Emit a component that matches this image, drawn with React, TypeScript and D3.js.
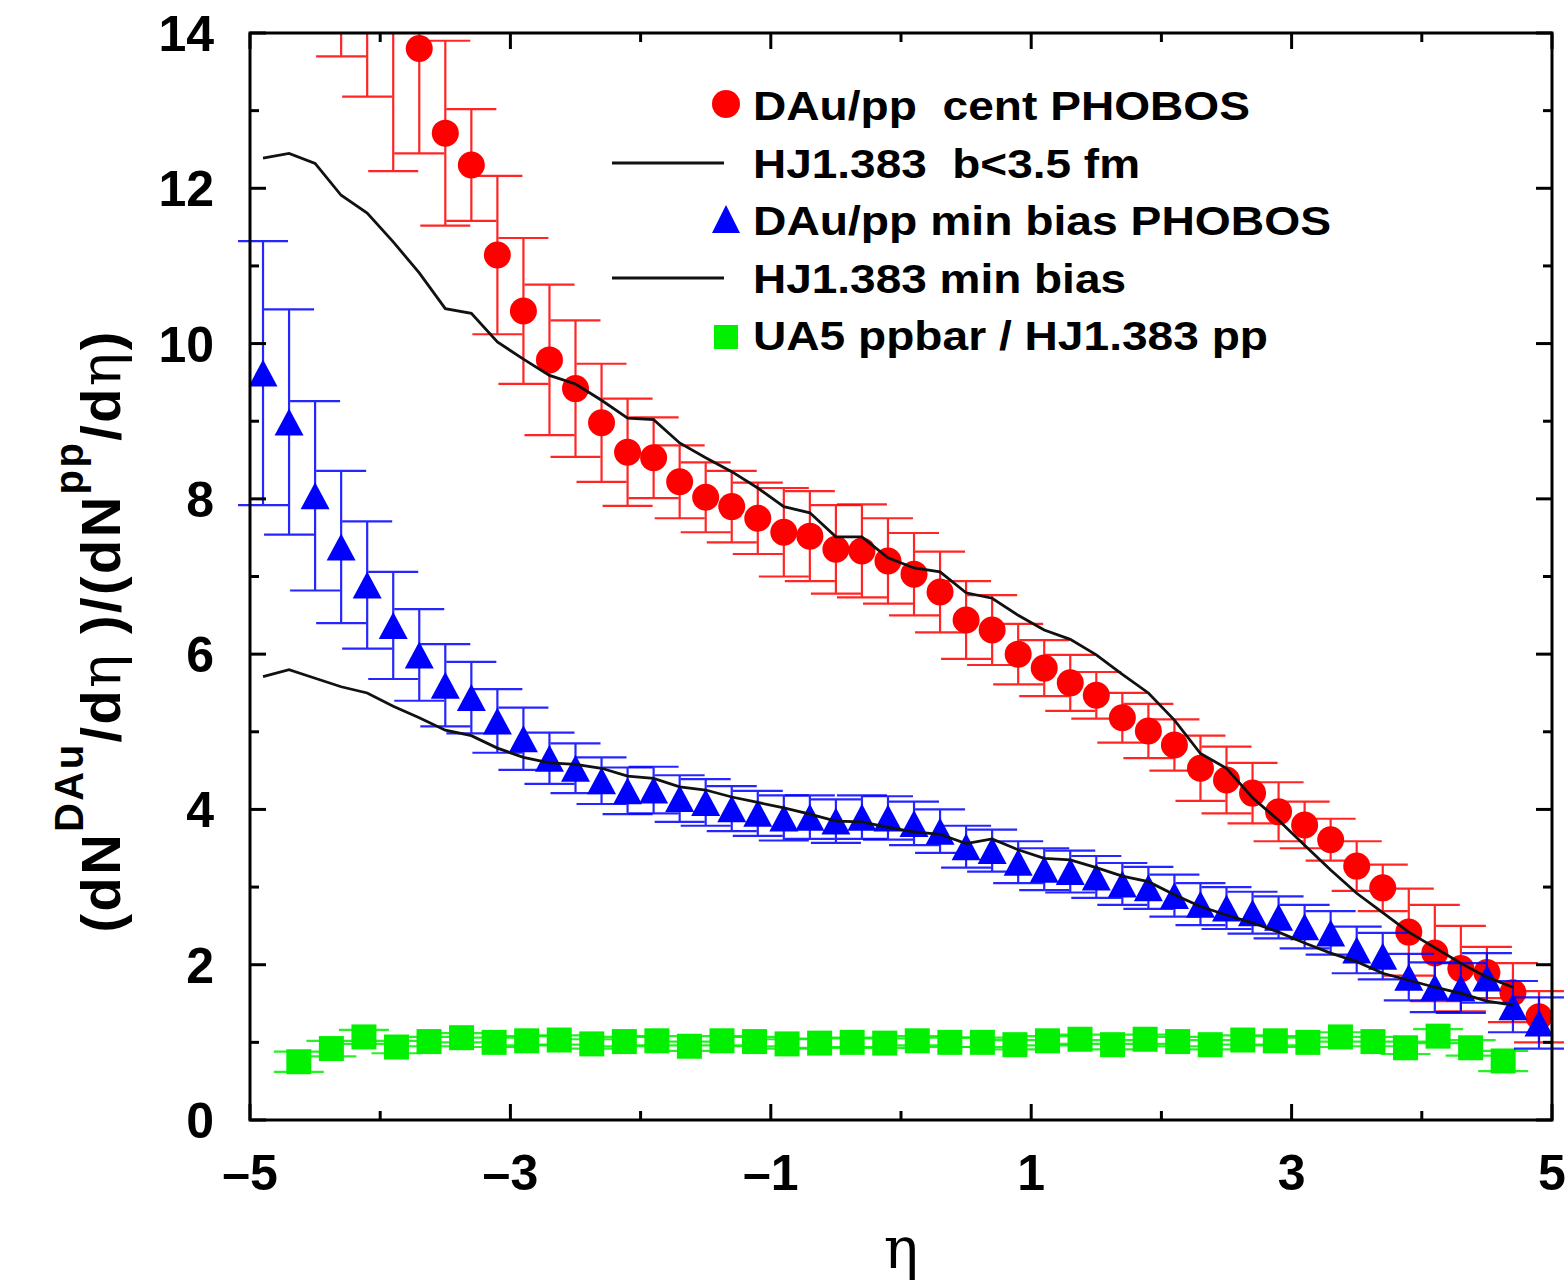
import React from "react";
import * as d3 from "d3";

// ---------- data ----------
const redEta = [-4.3, -4.1, -3.9, -3.7, -3.5, -3.3, -3.1, -2.9, -2.7, -2.5, -2.3, -2.1, -1.9, -1.7, -1.5, -1.3, -1.1, -0.9, -0.7, -0.5, -0.3, -0.1, 0.1, 0.3, 0.5, 0.7, 0.9, 1.1, 1.3, 1.5, 1.7, 1.9, 2.1, 2.3, 2.5, 2.7, 2.9, 3.1, 3.3, 3.5, 3.7, 3.9, 4.1, 4.3, 4.5, 4.7, 4.9];
const redVal = [16.3, 15.5, 14.55, 13.8, 12.71, 12.3, 11.14, 10.42, 9.79, 9.42, 8.98, 8.6, 8.53, 8.22, 8.02, 7.9, 7.75, 7.57, 7.52, 7.35, 7.33, 7.2, 7.03, 6.8, 6.44, 6.31, 6.0, 5.82, 5.63, 5.47, 5.18, 5.01, 4.83, 4.53, 4.38, 4.21, 3.97, 3.8, 3.61, 3.27, 2.99, 2.42, 2.15, 1.95, 1.9, 1.64, 1.33];
const redErr = [2.6, 2.32, 2.33, 1.35, 1.19, 0.72, 1.02, 0.94, 0.97, 0.88, 0.76, 0.69, 0.52, 0.47, 0.45, 0.46, 0.46, 0.57, 0.58, 0.57, 0.6, 0.55, 0.53, 0.52, 0.5, 0.45, 0.39, 0.36, 0.36, 0.3, 0.32, 0.35, 0.33, 0.42, 0.43, 0.39, 0.38, 0.3, 0.27, 0.32, 0.3, 0.56, 0.62, 0.55, 0.33, 0.38, 0.33];

const blueEta = [-4.9, -4.7, -4.5, -4.3, -4.1, -3.9, -3.7, -3.5, -3.3, -3.1, -2.9, -2.7, -2.5, -2.3, -2.1, -1.9, -1.7, -1.5, -1.3, -1.1, -0.9, -0.7, -0.5, -0.3, -0.1, 0.1, 0.3, 0.5, 0.7, 0.9, 1.1, 1.3, 1.5, 1.7, 1.9, 2.1, 2.3, 2.5, 2.7, 2.9, 3.1, 3.3, 3.5, 3.7, 3.9, 4.1, 4.3, 4.5, 4.7, 4.9];
const blueVal = [9.62, 8.99, 8.04, 7.38, 6.89, 6.37, 5.99, 5.6, 5.44, 5.14, 4.91, 4.66, 4.53, 4.37, 4.24, 4.25, 4.14, 4.09, 4.01, 3.95, 3.89, 3.9, 3.85, 3.9, 3.89, 3.82, 3.72, 3.52, 3.47, 3.32, 3.23, 3.2, 3.13, 3.04, 2.99, 2.89, 2.78, 2.73, 2.67, 2.61, 2.49, 2.41, 2.19, 2.11, 1.84, 1.71, 1.7, 1.83, 1.46, 1.25];
const blueErr = [1.7, 1.45, 1.22, 0.98, 0.82, 0.69, 0.59, 0.53, 0.46, 0.41, 0.4, 0.33, 0.32, 0.3, 0.3, 0.3, 0.3, 0.3, 0.29, 0.29, 0.29, 0.28, 0.28, 0.28, 0.28, 0.28, 0.28, 0.27, 0.27, 0.27, 0.27, 0.27, 0.27, 0.27, 0.27, 0.27, 0.27, 0.27, 0.27, 0.27, 0.28, 0.28, 0.3, 0.3, 0.3, 0.32, 0.32, 0.32, 0.33, 0.33];

const greenEta = [-4.625, -4.375, -4.125, -3.875, -3.625, -3.375, -3.125, -2.875, -2.625, -2.375, -2.125, -1.875, -1.625, -1.375, -1.125, -0.875, -0.625, -0.375, -0.125, 0.125, 0.375, 0.625, 0.875, 1.125, 1.375, 1.625, 1.875, 2.125, 2.375, 2.625, 2.875, 3.125, 3.375, 3.625, 3.875, 4.125, 4.375, 4.625];
const greenVal = [0.75, 0.92, 1.07, 0.94, 1.01, 1.06, 1.0, 1.02, 1.03, 0.98, 1.01, 1.02, 0.95, 1.02, 1.01, 0.98, 0.99, 1.0, 0.99, 1.02, 1.0, 1.0, 0.97, 1.02, 1.04, 0.97, 1.04, 1.01, 0.97, 1.03, 1.02, 1.0, 1.07, 1.01, 0.93, 1.08, 0.93, 0.76];
const greenErr = [0.13, 0.1, 0.09, 0.08, 0.06, 0.06, 0.06, 0.06, 0.06, 0.06, 0.06, 0.06, 0.06, 0.06, 0.06, 0.06, 0.06, 0.06, 0.06, 0.06, 0.06, 0.06, 0.06, 0.06, 0.06, 0.06, 0.06, 0.06, 0.06, 0.06, 0.06, 0.06, 0.06, 0.06, 0.08, 0.09, 0.1, 0.13];

const hjEta = [-4.9, -4.7, -4.5, -4.3, -4.1, -3.9, -3.7, -3.5, -3.3, -3.1, -2.9, -2.7, -2.5, -2.3, -2.1, -1.9, -1.7, -1.5, -1.3, -1.1, -0.9, -0.7, -0.5, -0.3, -0.1, 0.1, 0.3, 0.5, 0.7, 0.9, 1.1, 1.3, 1.5, 1.7, 1.9, 2.1, 2.3, 2.5, 2.7, 2.9, 3.1, 3.3, 3.5, 3.7, 3.9, 4.1, 4.3, 4.5, 4.7];
const hjCent = [12.39, 12.45, 12.32, 11.91, 11.68, 11.31, 10.91, 10.45, 10.39, 10.02, 9.8, 9.59, 9.48, 9.27, 9.04, 9.02, 8.72, 8.53, 8.35, 8.14, 7.9, 7.82, 7.51, 7.51, 7.24, 7.11, 7.06, 6.79, 6.72, 6.5, 6.31, 6.19, 5.99, 5.74, 5.5, 5.15, 4.72, 4.53, 4.15, 3.86, 3.54, 3.22, 2.92, 2.67, 2.42, 2.22, 2.02, 1.84, 1.71];
const hjMinBias = [5.71, 5.8, 5.69, 5.58, 5.5, 5.33, 5.18, 5.02, 4.95, 4.79, 4.67, 4.6, 4.58, 4.53, 4.43, 4.4, 4.29, 4.25, 4.16, 4.09, 4.02, 3.94, 3.85, 3.84, 3.77, 3.71, 3.68, 3.56, 3.62, 3.48, 3.37, 3.35, 3.25, 3.14, 3.07, 2.9, 2.75, 2.64, 2.54, 2.42, 2.28, 2.15, 2.04, 1.89, 1.8, 1.71, 1.63, 1.53, 1.48];

const xTickLabels = ["–5", "–3", "–1", "1", "3", "5"];
const xTickValues = [-5, -3, -1, 1, 3, 5];
const yTickValues = [0, 2, 4, 6, 8, 10, 12, 14];

const legendLabels = [
  "DAu/pp  cent PHOBOS",
  "HJ1.383  b<3.5 fm",
  "DAu/pp min bias PHOBOS",
  "HJ1.383 min bias",
  "UA5 ppbar / HJ1.383 pp",
];
const legendWidths = [497, 387, 578, 373, 515];

// ---------- styles ----------
const RED = "#ff0000";
const BLUE = "#0000ff";
const GREEN = "#00f000";
const FONT = "'Liberation Sans', Arial, Helvetica, sans-serif";

const W = 1568;
const H = 1284;
const L = 250, R = 1552, T = 33, B = 1120;

export default function App() {
  const x = d3.scaleLinear().domain([-5, 5]).range([L, R]);
  const y = d3.scaleLinear().domain([0, 14]).range([B, T]);
  const cap = 25;

  const line = d3
    .line<[number, number]>()
    .x((d) => x(d[0]))
    .y((d) => y(d[1]));

  const errBars = (eta: number[], val: number[], err: number[], color: string, key: string) =>
    eta.map((e, i) => {
      const cx = x(e);
      const y1 = y(val[i] + err[i]);
      const y2 = y(val[i] - err[i]);
      return (
        <g key={key + i} stroke={color} strokeWidth={2.2} opacity={0.85}>
          <line x1={cx} x2={cx} y1={y1} y2={y2} />
          <line x1={cx - cap} x2={cx + cap} y1={y1} y2={y1} />
          <line x1={cx - cap} x2={cx + cap} y1={y2} y2={y2} />
        </g>
      );
    });

  const tri = (cx: number, cy: number, w: number, h: number) =>
    `M${cx},${cy - h / 2} L${cx + w / 2},${cy + h / 2} L${cx - w / 2},${cy + h / 2} Z`;

  const xMinor = d3.range(-4, 5, 2);
  const yMinor = d3.range(1, 14, 2);

  const legendRowY = [104, 163, 219, 278, 337];
  const legendBase = [120, 178, 235, 293, 350];
  const legendTextX = 753;

  return (
    <svg
      width={W}
      height={H}
      viewBox={`0 0 ${W} ${H}`}
      style={{ position: "absolute", left: 0, top: 0, background: "#fff" }}
    >
      <defs>
        <clipPath id="clipTop">
          <rect x={0} y={T} width={W} height={H - T} />
        </clipPath>
      </defs>
      <rect x={0} y={0} width={W} height={H} fill="#fff" />

      <g clipPath="url(#clipTop)">
        {/* green */}
        {errBars(greenEta, greenVal, greenErr, GREEN, "ge")}
        {greenEta.map((e, i) => (
          <rect key={"gs" + i} x={x(e) - 12.5} y={y(greenVal[i]) - 12.5} width={25} height={25} fill={GREEN} />
        ))}
        {/* red */}
        {errBars(redEta, redVal, redErr, RED, "re")}
        {redEta.map((e, i) => (
          <circle key={"rc" + i} cx={x(e)} cy={y(redVal[i])} r={13.5} fill={RED} />
        ))}
        {/* blue */}
        {errBars(blueEta, blueVal, blueErr, BLUE, "be")}
        {blueEta.map((e, i) => (
          <path key={"bt" + i} d={tri(x(e), y(blueVal[i]), 29, 27)} fill={BLUE} />
        ))}
        {/* HIJING lines */}
        <path d={line(hjEta.map((e, i) => [e, hjCent[i]]) as [number, number][]) || ""} fill="none" stroke="#111" strokeWidth={2.8} />
        <path d={line(hjEta.map((e, i) => [e, hjMinBias[i]]) as [number, number][]) || ""} fill="none" stroke="#111" strokeWidth={2.8} />
      </g>

      {/* frame */}
      <rect x={L} y={T} width={R - L} height={B - T} fill="none" stroke="#000" strokeWidth={3} />

      {/* x ticks */}
      {xTickValues.map((v) => (
        <g key={"xt" + v} stroke="#000" strokeWidth={3}>
          <line x1={x(v)} x2={x(v)} y1={B} y2={B - 16} />
          <line x1={x(v)} x2={x(v)} y1={T} y2={T + 16} />
        </g>
      ))}
      {xMinor.map((v) => (
        <g key={"xm" + v} stroke="#000" strokeWidth={3}>
          <line x1={x(v)} x2={x(v)} y1={B} y2={B - 9} />
          <line x1={x(v)} x2={x(v)} y1={T} y2={T + 9} />
        </g>
      ))}
      {/* y ticks */}
      {yTickValues.map((v) => (
        <g key={"yt" + v} stroke="#000" strokeWidth={3}>
          <line x1={L} x2={L + 16} y1={y(v)} y2={y(v)} />
          <line x1={R} x2={R - 16} y1={y(v)} y2={y(v)} />
        </g>
      ))}
      {yMinor.map((v) => (
        <g key={"ym" + v} stroke="#000" strokeWidth={3}>
          <line x1={L} x2={L + 9} y1={y(v)} y2={y(v)} />
          <line x1={R} x2={R - 9} y1={y(v)} y2={y(v)} />
        </g>
      ))}

      {/* tick labels */}
      {xTickValues.map((v, i) => (
        <text key={"xl" + v} x={x(v)} y={1190} textAnchor="middle" fontFamily={FONT} fontWeight="bold" fontSize={50} fill="#000">
          {xTickLabels[i]}
        </text>
      ))}
      {yTickValues.map((v) => (
        <text key={"yl" + v} x={214} y={y(v) + 18} textAnchor="end" fontFamily={FONT} fontWeight="bold" fontSize={50} fill="#000">
          {v}
        </text>
      ))}

      {/* axis titles */}
      <text x={901} y={1268} textAnchor="middle" fontFamily="'DejaVu Serif', 'Liberation Serif', serif" fontSize={58} fill="#000">
        η
      </text>
      <text
        transform={`translate(120, 632) rotate(-90)`}
        textAnchor="middle"
        fontFamily={FONT}
        fontWeight="bold"
        fontSize={56}
        fill="#000"
        textLength={601}
        lengthAdjust="spacing"
      >
        <tspan>(dN</tspan>
        <tspan fontSize={40} dy={-37}>DAu</tspan>
        <tspan dy={37}>/d</tspan>
        <tspan fontWeight="normal" fontFamily="'DejaVu Serif', serif">η</tspan>
        <tspan> )/(dN</tspan>
        <tspan fontSize={40} dy={-37}>pp</tspan>
        <tspan dy={37}>/d</tspan>
        <tspan fontWeight="normal" fontFamily="'DejaVu Serif', serif">η</tspan>
        <tspan>)</tspan>
      </text>

      {/* legend */}
      <circle cx={726} cy={legendRowY[0]} r={14} fill={RED} />
      <line x1={612} x2={724} y1={legendRowY[1]} y2={legendRowY[1]} stroke="#111" strokeWidth={3} />
      <path d={tri(726, legendRowY[2], 28, 28)} fill={BLUE} />
      <line x1={612} x2={724} y1={legendRowY[3]} y2={legendRowY[3]} stroke="#111" strokeWidth={3} />
      <rect x={714} y={legendRowY[4] - 12} width={24} height={24} fill={GREEN} />
      {legendLabels.map((t, i) => (
        <text
          key={"lg" + i}
          x={legendTextX}
          y={legendBase[i]}
          fontFamily={FONT}
          fontWeight="bold"
          fontSize={40}
          fill="#000"
          textLength={legendWidths[i]}
          lengthAdjust="spacingAndGlyphs"
          style={{ whiteSpace: "pre" }}
        >
          {t}
        </text>
      ))}
    </svg>
  );
}
